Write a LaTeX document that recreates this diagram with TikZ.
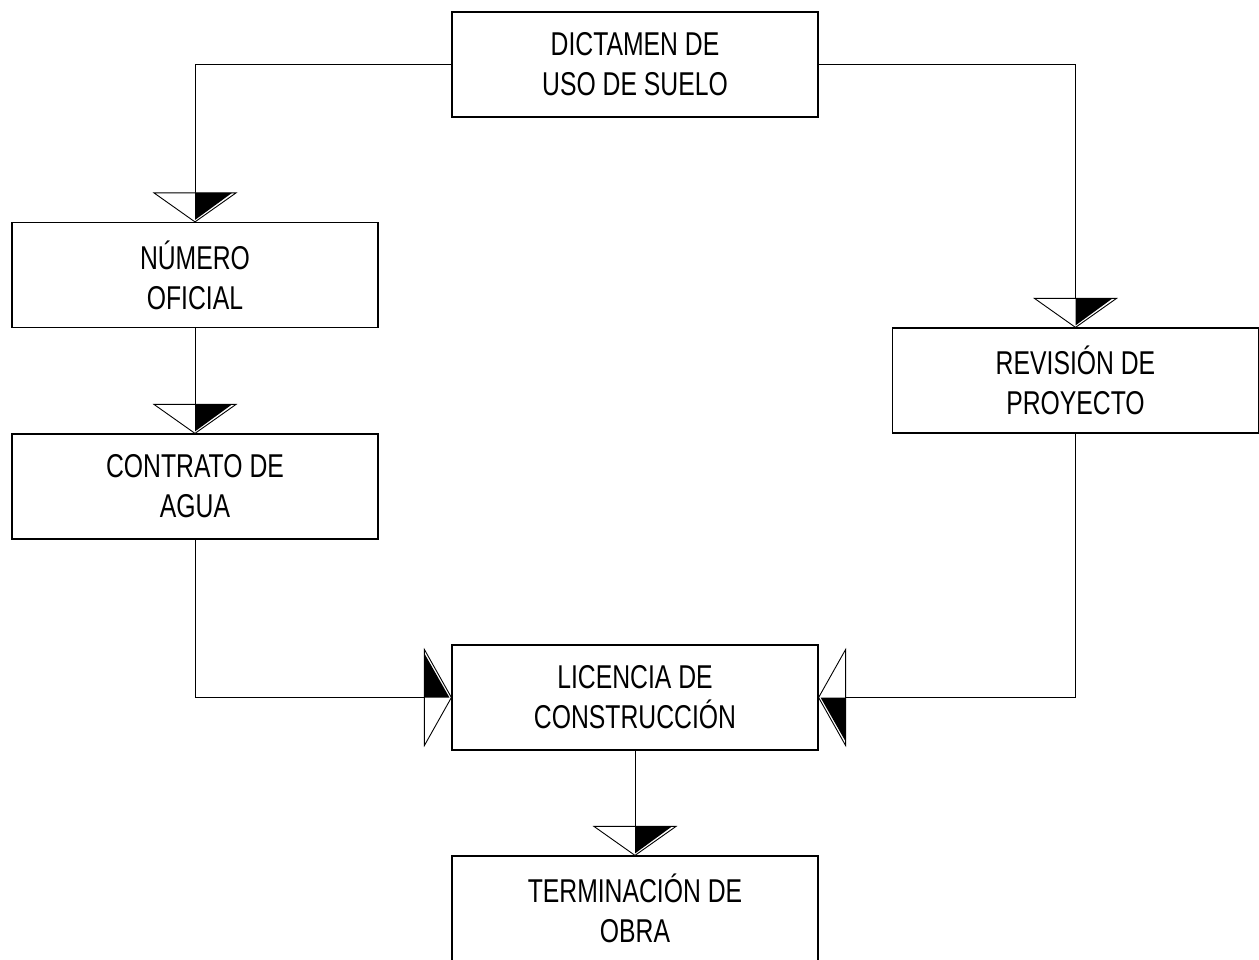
\documentclass[tikz,border=0pt]{standalone}
\usepackage{fontspec}
\setmainfont{Liberation Sans}[FakeStretch=0.75]
\begin{document}
\begin{tikzpicture}[x=1pt, y=-1pt,
    caja/.style={draw, line width=1.2pt, fill=white, minimum width=366pt,
        minimum height=105pt, align=center, inner sep=0pt,
        font=\fontsize{33}{40}\selectfont},
    pics/flecha/.style args={#1/#2}{code={
        \filldraw[fill=white, line width=0.9pt] (-#1,-#2) -- (#1,-#2) -- (0,0) -- cycle;
        \fill[black] (0,-#2) -- (#1-4,-#2) -- (0,-2) -- cycle;
    }}]
    \useasboundingbox (0,0) rectangle (1259,959);

    % --- cajas ---
    \node[caja] (dictamen)    at (635,64.5)   {DICTAMEN DE\\USO DE SUELO};
    \node[caja] (numero)      at (195,275)    {NÚMERO\\OFICIAL};
    \node[caja] (contrato)    at (195,486.5)  {CONTRATO DE\\AGUA};
    \node[caja] (revision)    at (1075.5,380.5) {REVISIÓN DE\\PROYECTO};
    \node[caja] (licencia)    at (635,697.5)  {LICENCIA DE\\CONSTRUCCIÓN};
    \node[caja] (terminacion) at (635,908.5)  {TERMINACIÓN DE\\OBRA};

    % --- conectores ---
    \draw[line width=1pt] (dictamen.west) -| (numero.north);
    \draw[line width=1pt] (dictamen.east) -| (revision.north);
    \draw[line width=1pt] (numero.south) -- (contrato.north);
    \draw[line width=1pt] (contrato.south) |- (licencia.west);
    \draw[line width=1pt] (revision.south) |- (licencia.east);
    \draw[line width=1pt] (licencia.south) -- (terminacion.north);

    % --- flechas ---
    \foreach \n in {numero, contrato, revision, terminacion}
        \pic at (\n.north) {flecha=41/29};
    \pic[rotate=90] at (licencia.west) {flecha=48/27};
    \pic[rotate=-90] at (licencia.east) {flecha=48/27};
\end{tikzpicture}
\end{document}
